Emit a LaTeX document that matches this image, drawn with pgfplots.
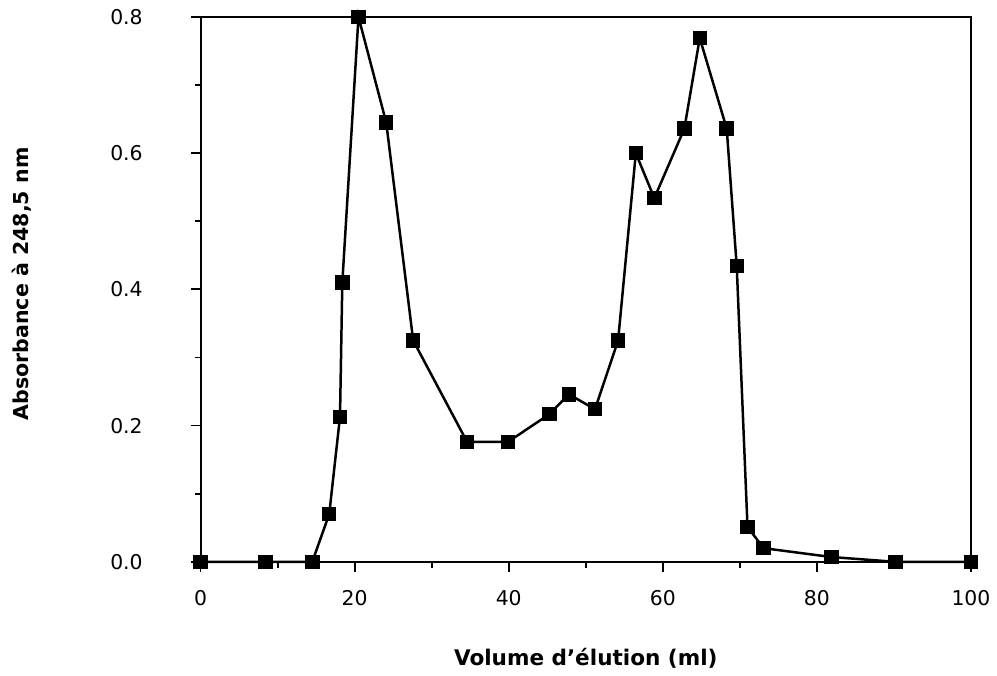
\documentclass[border=0pt]{standalone}
\usepackage{fontspec}
\setmainfont{DejaVu Sans}
\usepackage{pgfplots}
\pgfplotsset{compat=1.18}
\begin{document}
\begin{tikzpicture}
\begin{axis}[
  at={(0pt,0pt)}, anchor=south west,
  scale only axis, width=386pt, height=273pt,
  xmin=0, xmax=100, ymin=0, ymax=0.8,
  xtick={0,20,40,60,80,100}, minor xtick={10,30,50,70,90},
  ytick={0,0.2,0.4,0.6,0.8}, minor ytick={0.1,0.3,0.5,0.7},
  tick pos=left, tick align=outside,
  major tick length=5pt, minor tick length=3pt,
  axis line style={line width=1pt},
  every tick/.style={black, line width=0.9pt},
  ticklabel style={font=\fontsize{10.2}{12}\selectfont},
  yticklabel style={xshift=-20.5pt},
  xticklabel style={yshift=-6pt},
  y tick label style={/pgf/number format/.cd, fixed, fixed zerofill, precision=1},
  /pgf/number format/assume math mode=true,
  xlabel={Volume d'élution (ml)},
  ylabel={Absorbance à 248,5 nm},
  xlabel style={at={(axis description cs:0.5,-0.178)}, anchor=center, font=\bfseries\fontsize{10.8}{13}\selectfont},
  ylabel style={at={(axis description cs:-0.232,0.51)}, anchor=center, font=\bfseries\fontsize{10.3}{12}\selectfont},
  clip=false
]
\addplot[black, line width=1.25pt, mark=square*, mark size=3pt, mark options={solid}] coordinates {
(0,0) (8.4,0) (14.5,0) (16.7,0.070) (18.1,0.213) (18.4,0.41) (20.5,0.80)
(24.1,0.645) (27.6,0.325) (34.6,0.176) (39.9,0.176) (45.3,0.217) (47.8,0.246)
(51.2,0.224) (54.2,0.325) (56.5,0.600) (58.9,0.534) (62.8,0.636) (64.8,0.769)
(68.3,0.636) (69.6,0.434) (71.0,0.051) (73.1,0.020) (81.9,0.007) (90.2,0) (100,0)
};
\end{axis}
\path (-100.5pt,-57pt) rectangle (398pt,281.5pt);
\end{tikzpicture}
\end{document}
